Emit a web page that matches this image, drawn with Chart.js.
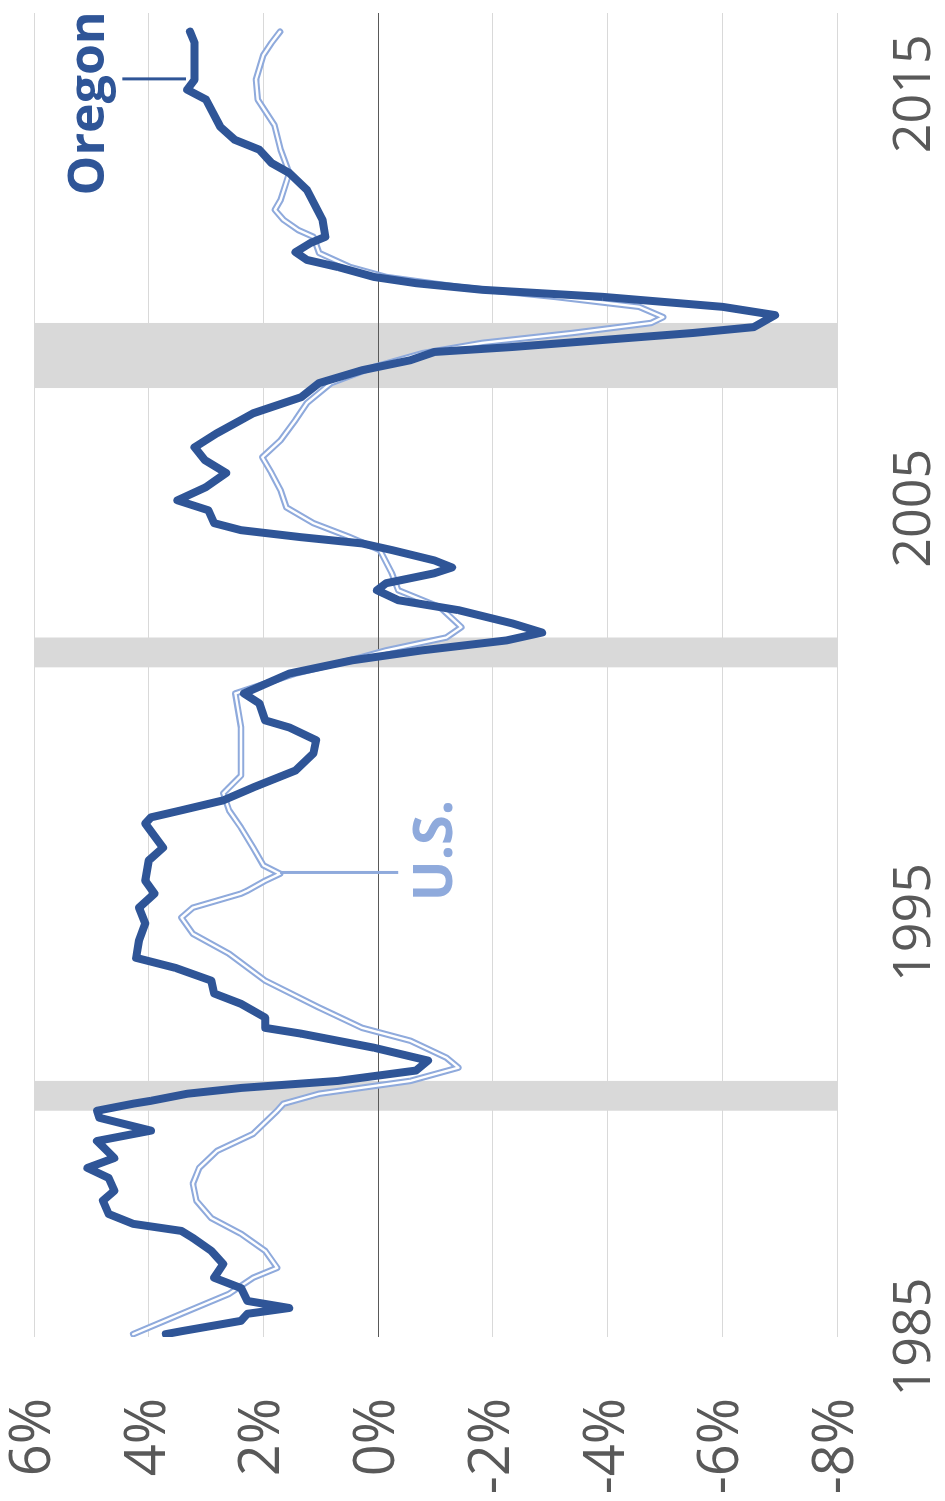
<!DOCTYPE html>
<html>
<head>
<meta charset="utf-8">
<script src="https://cdn.jsdelivr.net/npm/chart.js@4"></script>
<style>
  html, body { margin: 0; padding: 0; background: #fff; }
  #wrap { position: relative; width: 945px; height: 1501px; overflow: hidden; }
  /* chart is drawn landscape, then turned a quarter turn counter-clockwise */
  #turn { position: absolute; left: 0; top: 0; width: 1501px; height: 945px;
          transform-origin: 0 0; transform: translate(0, 1501px) rotate(-90deg); }
</style>
</head>
<body>
<div id="wrap"><div id="turn"><canvas id="jobs" width="1501" height="945"></canvas></div></div>
<script>
// year-over-year job growth, %
const orYears = [1985.07, 1985.14, 1985.39, 1985.56, 1985.70, 1985.87, 1986.18, 1986.43, 1986.76, 1987.08,
  1987.39, 1987.56, 1987.73, 1987.97, 1988.29, 1988.53, 1988.84, 1989.08, 1989.32, 1989.73,
  1989.98, 1990.29, 1990.46, 1990.63, 1990.70, 1990.87, 1991.01, 1991.18, 1991.43, 1991.67,
  1991.98, 1992.32, 1992.46, 1992.71, 1993.04, 1993.29, 1993.60, 1993.91, 1994.15, 1994.57,
  1994.98, 1995.36, 1995.70, 1996.01, 1996.50, 1996.81, 1997.39, 1997.54, 1997.71, 1997.95,
  1998.26, 1998.67, 1999.08, 1999.40, 1999.71, 1999.88, 2000.29, 2000.53, 2001.01, 2001.33,
  2001.57, 2001.81, 2002.00, 2002.22, 2002.54, 2002.78, 2003.02, 2003.19, 2003.43, 2003.57,
  2003.74, 2003.99, 2004.15, 2004.30, 2004.47, 2004.64, 2004.95, 2005.19, 2005.51, 2005.85,
  2006.16, 2006.47, 2006.81, 2007.13, 2007.29, 2007.68, 2008.02, 2008.33, 2008.57, 2008.77,
  2008.89, 2009.06, 2009.23, 2009.37, 2009.66, 2009.86, 2010.10, 2010.27, 2010.43, 2010.58,
  2010.82, 2010.99, 2011.18, 2011.40, 2011.55, 2011.96, 2012.68, 2013.09, 2013.33, 2013.65,
  2013.89, 2014.20, 2014.86, 2015.10, 2015.34, 2016.23, 2016.50];
const orGrowth = [3.70, 3.43, 2.39, 2.28, 1.55, 2.28, 2.39, 2.86, 2.70, 2.91,
  3.23, 3.43, 4.27, 4.70, 4.80, 4.60, 4.70, 5.07, 4.60, 4.90,
  3.96, 4.86, 4.90, 4.27, 3.96, 3.33, 2.39, 0.70, -0.66, -0.87,
  0.07, 1.34, 1.97, 1.97, 2.39, 2.86, 2.91, 3.54, 4.22, 4.17,
  4.06, 4.17, 3.90, 4.06, 4.00, 3.75, 4.06, 3.96, 3.43, 2.70,
  2.18, 1.44, 1.13, 1.08, 1.55, 1.97, 2.07, 2.34, 1.55, 0.45,
  -0.77, -2.24, -2.86, -2.34, -1.40, -0.35, 0.02, -0.14, -0.98, -1.29,
  -0.98, -0.24, 0.28, 1.34, 2.39, 2.86, 2.96, 3.50, 3.00, 2.65,
  3.02, 3.20, 2.81, 2.39, 2.18, 1.34, 1.03, 0.28, -0.56, -0.98,
  -2.34, -3.92, -5.50, -6.55, -6.92, -6.00, -3.92, -1.82, -0.66, 0.07,
  0.70, 1.24, 1.44, 1.18, 0.92, 0.97, 1.24, 1.55, 1.86, 2.07,
  2.50, 2.75, 3.00, 3.33, 3.20, 3.20, 3.28];

const usYears = [1985.07, 1985.56, 1986.04, 1986.43, 1986.67, 1987.08, 1987.49, 1987.87, 1988.29, 1988.70,
  1989.08, 1989.49, 1989.90, 1990.46, 1990.63, 1990.87, 1991.18, 1991.50, 1991.74, 1992.15,
  1992.46, 1992.95, 1993.60, 1994.25, 1994.73, 1995.12, 1995.36, 1995.70, 1995.77, 1996.01,
  1996.18, 1996.38, 1996.81, 1997.29, 1997.71, 1998.12, 1998.55, 1999.71, 2000.53, 2001.01,
  2001.33, 2001.57, 2001.88, 2002.13, 2002.61, 2003.02, 2003.43, 2003.99, 2004.30, 2004.64,
  2005.02, 2005.43, 2005.85, 2006.23, 2006.64, 2007.13, 2007.54, 2008.02, 2008.41, 2008.74,
  2008.99, 2009.23, 2009.47, 2009.61, 2009.86, 2010.10, 2010.34, 2010.58, 2010.82, 2011.16,
  2011.55, 2011.71, 2011.96, 2012.20, 2012.44, 2013.09, 2013.65, 2014.25, 2014.86, 2015.34,
  2015.94, 2016.23, 2016.50];
const usGrowth = [4.27, 3.43, 2.60, 2.18, 1.76, 1.97, 2.39, 2.91, 3.17, 3.23,
  3.12, 2.81, 2.18, 1.76, 1.65, 1.03, -0.56, -1.40, -1.19, -0.56,
  0.28, 1.03, 1.97, 2.60, 3.23, 3.43, 3.23, 2.39, 2.28, 1.97,
  1.71, 2.00, 2.18, 2.39, 2.60, 2.70, 2.39, 2.39, 2.49, 1.44,
  0.49, -0.14, -1.19, -1.45, -1.08, -0.35, -0.24, -0.03, 0.49, 1.13,
  1.60, 1.70, 1.86, 2.02, 1.70, 1.44, 1.24, 0.82, 0.07, -0.77,
  -1.82, -3.40, -4.76, -4.97, -4.55, -3.08, -1.40, -0.14, 0.49, 1.03,
  1.13, 1.39, 1.65, 1.80, 1.70, 1.55, 1.70, 1.81, 2.10, 2.13,
  2.00, 1.86, 1.71];

// recessions (start, end)
const recessionStart = [1990.46, 2001.16, 2007.90];
const recessionEnd = [1991.18, 2001.88, 2009.47];

const yearTicks = [1985, 1995, 2005, 2015];

const oregonBlue = '#2F5597';
const usBlue = '#8FAADC';
const axisGrey = '#595959';

Chart.defaults.font.family = "'Open Sans', sans-serif";

function toPoints(xs, ys) {
  return xs.map((x, i) => ({ x: x, y: ys[i] }));
}

const recessionPlugin = {
  id: 'recessions',
  beforeDraw(chart) {
    const ctx = chart.ctx, xs = chart.scales.x, area = chart.chartArea;
    ctx.save();
    ctx.fillStyle = '#D9D9D9';
    recessionStart.forEach((s, i) => {
      const a = xs.getPixelForValue(s), b = xs.getPixelForValue(recessionEnd[i]);
      ctx.fillRect(a, area.top, b - a, area.bottom - area.top);
    });
    ctx.restore();
  }
};

// series names with leader lines
const seriesLabels = [
  { text: 'Oregon', color: oregonBlue, size: 50, at: 2014.77, base: 4.78, lineAt: 2015.36, from: 4.46, to: 3.35 },
  { text: 'U.S.', color: usBlue, size: 54, at: 1996.74, base: -1.29, lineAt: 1996.21, from: 1.71, to: -0.35 }
];

const labelPlugin = {
  id: 'seriesLabels',
  afterDatasetsDraw(chart) {
    const ctx = chart.ctx, xs = chart.scales.x, ys = chart.scales.y;
    ctx.save();
    seriesLabels.forEach(l => {
      ctx.strokeStyle = l.color;
      ctx.lineWidth = 3;
      ctx.beginPath();
      ctx.moveTo(xs.getPixelForValue(l.lineAt), ys.getPixelForValue(l.from));
      ctx.lineTo(xs.getPixelForValue(l.lineAt), ys.getPixelForValue(l.to));
      ctx.stroke();
      ctx.fillStyle = l.color;
      ctx.font = 'bold ' + l.size + "px 'Open Sans', sans-serif";
      ctx.textAlign = 'center';
      ctx.textBaseline = 'alphabetic';
      ctx.fillText(l.text, xs.getPixelForValue(l.at), ys.getPixelForValue(l.base));
    });
    ctx.restore();
  }
};

new Chart(document.getElementById('jobs'), {
  type: 'line',
  data: {
    datasets: [
      {
        label: 'Oregon',
        data: toPoints(orYears, orGrowth),
        borderColor: oregonBlue,
        borderWidth: 8
      },
      {
        label: 'U.S. (inner)',
        data: toPoints(usYears, usGrowth),
        borderColor: '#FFFFFF',
        borderWidth: 2.4
      },
      {
        label: 'U.S.',
        data: toPoints(usYears, usGrowth),
        borderColor: usBlue,
        borderWidth: 6.5
      }
    ]
  },
  options: {
    responsive: false,
    animation: false,
    devicePixelRatio: 1,
    layout: { padding: { top: 34, right: 13, bottom: 0, left: 0 } },
    elements: {
      point: { radius: 0 },
      line: { tension: 0, borderJoinStyle: 'round', borderCapStyle: 'round', fill: false }
    },
    plugins: {
      legend: { display: false },
      tooltip: { enabled: false }
    },
    scales: {
      x: {
        type: 'linear',
        min: 1985,
        max: 2016.95,
        afterBuildTicks: axis => { axis.ticks = yearTicks.map(v => ({ value: v })); },
        afterFit: axis => { axis.height = 108; axis.paddingLeft = 0; axis.paddingRight = 0; },
        grid: { display: false, drawTicks: false },
        border: { display: false },
        ticks: {
          padding: 47,
          color: axisGrey,
          font: { size: 52 },
          maxRotation: 0,
          autoSkip: false,
          callback: v => String(v)
        }
      },
      y: {
        min: -8,
        max: 6,
        afterFit: axis => { axis.width = 164; axis.paddingTop = 0; axis.paddingBottom = 0; },
        grid: {
          drawTicks: false,
          lineWidth: 1,
          color: c => (c.tick && c.tick.value === 0) ? axisGrey : '#D9D9D9'
        },
        border: { display: false },
        ticks: {
          stepSize: 2,
          padding: 61,
          color: axisGrey,
          font: { size: 56 },
          callback: v => v + '%'
        }
      }
    }
  },
  plugins: [recessionPlugin, labelPlugin]
});
</script>
</body>
</html>
